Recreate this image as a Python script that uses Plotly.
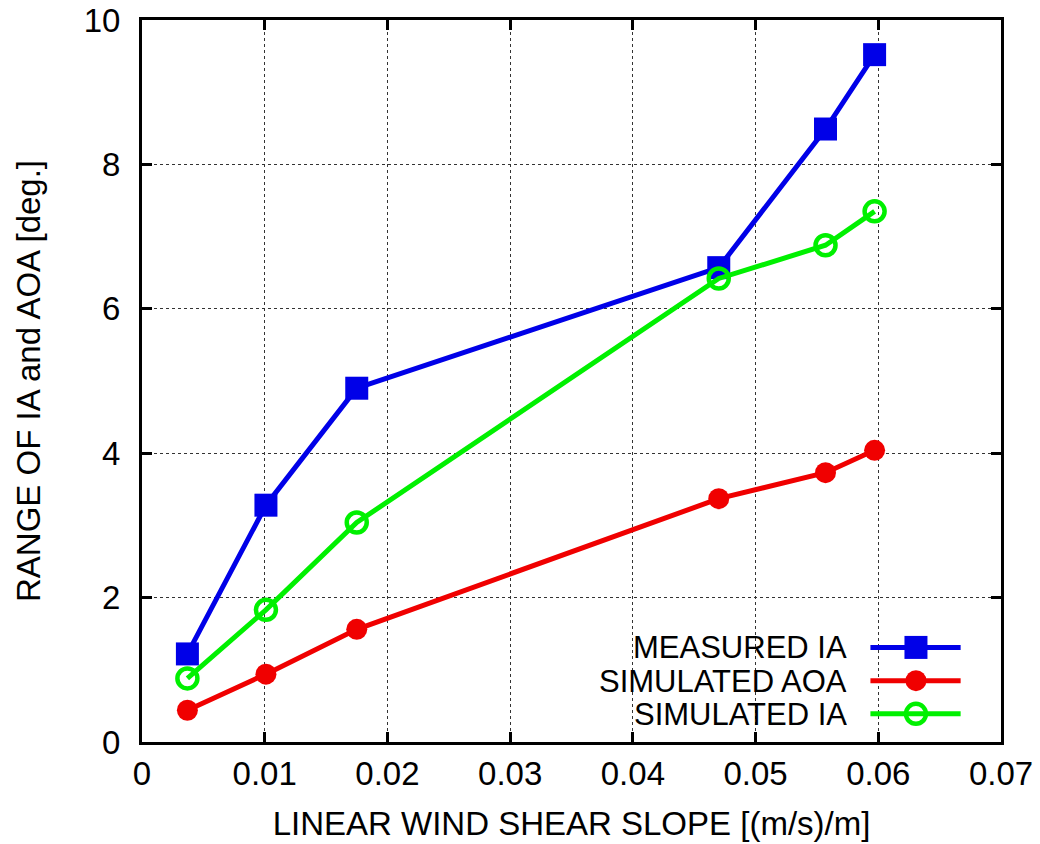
import plotly.graph_objects as go

# Data
shear_slope = [0.0037, 0.0101, 0.0175, 0.0470, 0.0557, 0.0597]
measured_ia = [1.22, 3.28, 4.90, 6.57, 8.49, 9.52]
simulated_aoa = [0.44, 0.94, 1.56, 3.37, 3.73, 4.04]
simulated_ia = [0.88, 1.83, 3.04, 6.42, 6.88, 7.35]

series_names = ["MEASURED IA", "SIMULATED AOA", "SIMULATED IA"]
series_values = [measured_ia, simulated_aoa, simulated_ia]

x_ticks = [0, 0.01, 0.02, 0.03, 0.04, 0.05, 0.06, 0.07]
x_tick_labels = ["0", "0.01", "0.02", "0.03", "0.04", "0.05", "0.06", "0.07"]
y_ticks = [0, 2, 4, 6, 8, 10]
y_tick_labels = ["0", "2", "4", "6", "8", "10"]

colors = ["#0000e8", "#f00000", "#00f000"]
markers = [
    dict(symbol="square", size=23, color="#0000e8", line=dict(width=0)),
    dict(symbol="circle", size=21, color="#f00000", line=dict(width=0)),
    dict(symbol="circle-open", size=20, color="#00f000", line=dict(width=4.5, color="#00f000")),
]

FONT = "Liberation Sans, Arial, Helvetica, sans-serif"
fs = 33

fig = go.Figure()
for name, vals, col, mk in zip(series_names, series_values, colors, markers):
    fig.add_trace(go.Scatter(
        x=shear_slope, y=vals, mode="lines+markers", name=name,
        line=dict(color=col, width=5), marker=mk, showlegend=False,
        xaxis="x", yaxis="y",
    ))

# Custom legend (text right, sample on the right), in an overlay axis of 0..1
legend_rows_y = [0.131, 0.085, 0.039]
legend_line_x = [0.848, 0.953]
legend_marker_x = 0.901
legend_text_x = 0.822
for name, col, mk, ly in zip(series_names, colors, markers, legend_rows_y):
    fig.add_trace(go.Scatter(
        x=legend_line_x, y=[ly, ly], mode="lines", line=dict(color=col, width=5),
        showlegend=False, xaxis="x2", yaxis="y2", hoverinfo="skip",
    ))
    fig.add_trace(go.Scatter(
        x=[legend_marker_x], y=[ly], mode="markers", marker=mk,
        showlegend=False, xaxis="x2", yaxis="y2", hoverinfo="skip",
    ))
    fig.add_annotation(
        x=legend_text_x, y=ly, xref="x2", yref="y2", text=name, showarrow=False,
        xanchor="right", yanchor="middle", height=30, borderpad=0,
        font=dict(family=FONT, size=31, color="black"),
    )

axis_common = dict(
    showline=True, linecolor="black", linewidth=3, mirror="ticks",
    ticks="inside", ticklen=10, tickwidth=3, tickcolor="black",
    showgrid=True, gridcolor="#333333", gridwidth=1.3, griddash="dot",
    zeroline=False, tickfont=dict(family=FONT, size=fs, color="black"),
    automargin=False,
)

fig.update_layout(
    width=1040, height=844,
    margin=dict(l=142, r=39, t=20, b=102),
    paper_bgcolor="white", plot_bgcolor="white",
    font=dict(family=FONT, size=fs, color="black"),
    xaxis=dict(
        range=[0, 0.07], tickvals=x_ticks, ticktext=x_tick_labels,
        title=dict(text="LINEAR WIND SHEAR SLOPE [(m/s)/m]", font=dict(family=FONT, size=fs), standoff=22),
        ticklabelstandoff=0, **axis_common,
    ),
    yaxis=dict(
        range=[0, 10], tickvals=y_ticks, ticktext=y_tick_labels,
        title=dict(text="RANGE OF IA and AOA [deg.]", font=dict(family=FONT, size=fs), standoff=34),
        ticklabelstandoff=12, **axis_common,
    ),
    xaxis2=dict(range=[0, 1], overlaying="x", visible=False, fixedrange=True),
    yaxis2=dict(range=[0, 1], overlaying="y", visible=False, fixedrange=True),
)

fig.write_html("out.html")
